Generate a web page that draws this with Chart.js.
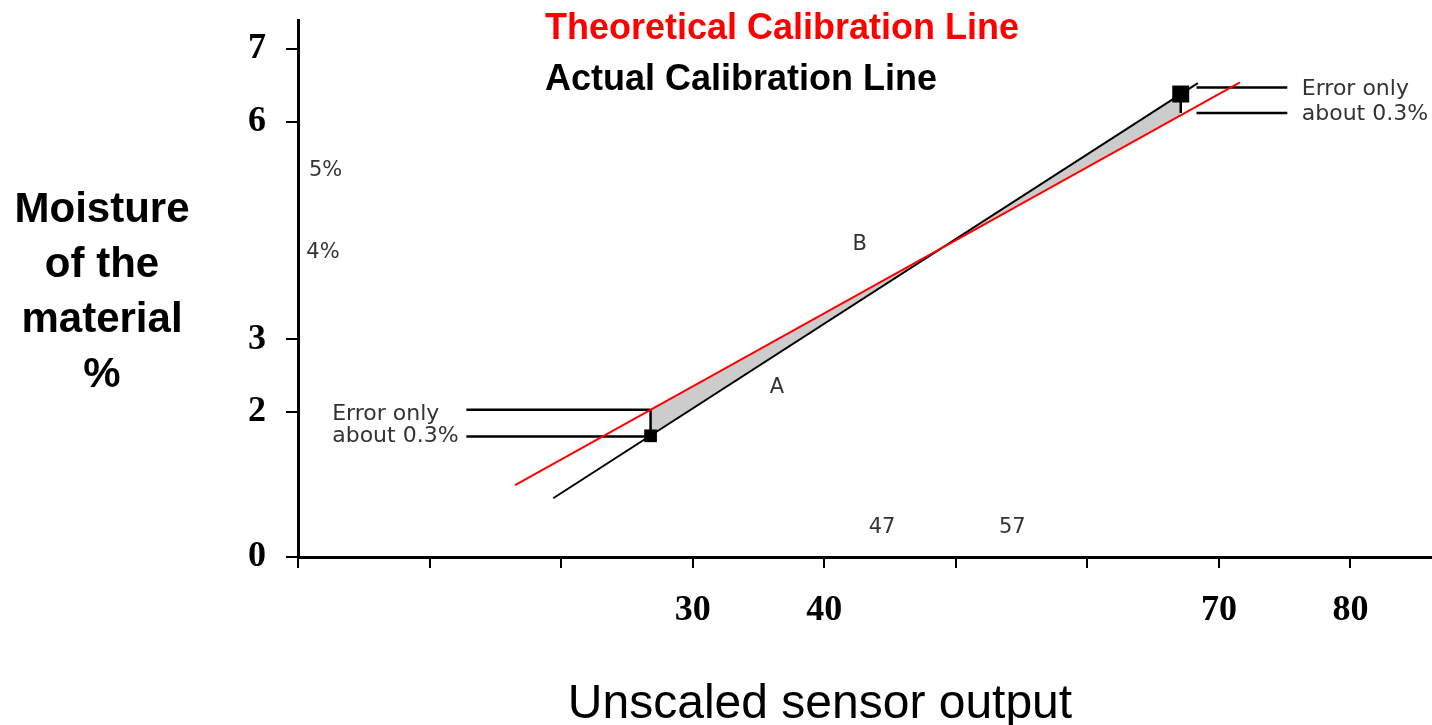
<!DOCTYPE html>
<html>
<head>
<meta charset="utf-8">
<script src="https://cdn.jsdelivr.net/npm/chart.js@4.4.1/dist/chart.umd.min.js"></script>
<style>
  html, body { margin: 0; padding: 0; background: #fff; }
  #wrap { width: 1432px; height: 725px; }
</style>
</head>
<body>
<div id="wrap"><canvas id="chart" width="1432" height="725"></canvas></div>
<script>
// values (x = unscaled sensor output, y = moisture %)
const theoreticalX = [16.5, 71.6];
const theoreticalY = [0.99, 6.54];
const actualX = [19.4, 68.4];
const actualY = [0.81, 6.53];
const calPointX = [26.8, 67.1];
const calPointY = [1.67, 6.38];
const redAtCalY = [2.03, 6.09];

const xTicks = [0, 10, 20, 30, 40, 50, 60, 70, 80];
const xTickLabels = [30, 40, 70, 80];
const yTicks = [0, 2, 3, 6, 7];

// the "error only" brackets
const errLeftX = [12.8, 26.8];
const errLeftY = [2.03, 1.66];
const errRightX = [68.3, 75.2];
const errRightY = [6.47, 6.12];

const noteText = ['A', 'B', '47', '57', '5%', '4%'];
const noteX = [36.4, 42.7, 44.4, 54.3, 2.1, 1.9];
const noteY = [2.33, 4.30, 0.40, 0.41, 5.33, 4.19];

const errorText = ['Error only', 'about 0.3%'];
const errTextX = [2.6, 76.3];
const errTextY = [[1.89, 1.58], [6.36, 6.02]];

const legendText = ['Theoretical Calibration Line', 'Actual Calibration Line'];
const legendColor = ['#ff0000', '#000000'];
const yTitle = ['Moisture', 'of the', 'material', '%'];
const xTitle = 'Unscaled sensor output';

const pts = (xs, ys) => xs.map((x, i) => ({ x, y: ys[i] }));
const seg = (a, b) => [a, b];

function bracket(data) {
  return { data, showLine: true, borderColor: '#000', borderWidth: 2.5, pointRadius: 0, fill: false };
}

const texts = {
  id: 'texts',
  afterDraw(chart) {
    const { ctx } = chart;
    const x = chart.scales.x, y = chart.scales.y;
    ctx.save();

    ctx.textAlign = 'left';
    ctx.textBaseline = 'alphabetic';
    ctx.font = 'bold 36px "Liberation Sans", Arial, sans-serif';
    legendText.forEach((t, i) => {
      ctx.fillStyle = legendColor[i];
      ctx.fillText(t, 545, 39 + i * 51);
    });

    ctx.fillStyle = '#000';
    ctx.textAlign = 'center';
    ctx.font = 'bold 42px "Liberation Sans", Arial, sans-serif';
    yTitle.forEach((t, i) => ctx.fillText(t, 102, 222 + i * 55));

    ctx.font = '48px "Liberation Sans", Arial, sans-serif';
    ctx.fillText(xTitle, 820, 718);

    ctx.fillStyle = '#333';
    ctx.font = '21px "DejaVu Sans", sans-serif';
    ctx.textBaseline = 'middle';
    noteText.forEach((t, i) => ctx.fillText(t, x.getPixelForValue(noteX[i]), y.getPixelForValue(noteY[i])));

    ctx.textAlign = 'left';
    ctx.textBaseline = 'alphabetic';
    ctx.font = '22px "DejaVu Sans", sans-serif';
    errTextX.forEach((ex, k) => {
      errorText.forEach((t, i) => ctx.fillText(t, x.getPixelForValue(ex), y.getPixelForValue(errTextY[k][i])));
    });
    ctx.restore();
  }
};

new Chart(document.getElementById('chart'), {
  type: 'scatter',
  data: {
    datasets: [
      { data: pts(calPointX, calPointY), pointStyle: 'rect', pointRadius: [9, 12], backgroundColor: '#000', borderColor: '#000', borderWidth: 0 },
      { data: pts(theoreticalX, theoreticalY), showLine: true, borderColor: '#ff0000', borderWidth: 2, pointRadius: 0 },
      { data: pts(actualX, actualY), showLine: true, borderColor: '#000', borderWidth: 2, pointRadius: 0 },
      bracket(seg({ x: errLeftX[0], y: errLeftY[0] }, { x: errLeftX[1], y: errLeftY[0] })),
      bracket(seg({ x: errLeftX[0], y: errLeftY[1] }, { x: errLeftX[1], y: errLeftY[1] })),
      bracket(seg({ x: calPointX[0], y: errLeftY[0] }, { x: calPointX[0], y: errLeftY[1] })),
      bracket(seg({ x: errRightX[0], y: errRightY[0] }, { x: errRightX[1], y: errRightY[0] })),
      bracket(seg({ x: errRightX[0], y: errRightY[1] }, { x: errRightX[1], y: errRightY[1] })),
      bracket(seg({ x: calPointX[1], y: calPointY[1] }, { x: calPointX[1], y: errRightY[1] })),
      // grey area between the two lines
      { data: pts(calPointX, calPointY), showLine: true, fill: '+1', backgroundColor: '#cccccc', borderColor: 'transparent', borderWidth: 0, pointRadius: 0 },
      { data: pts(calPointX, redAtCalY), showLine: true, fill: false, borderColor: 'transparent', borderWidth: 0, pointRadius: 0 }
    ]
  },
  options: {
    responsive: false,
    animation: false,
    devicePixelRatio: 1,
    layout: { autoPadding: false, padding: { top: 20, left: 0, right: 0, bottom: 0 } },
    plugins: { legend: { display: false }, tooltip: { enabled: false } },
    scales: {
      x: {
        type: 'linear', min: 0, max: 86.2,
        afterBuildTicks: s => { s.ticks = xTicks.map(v => ({ value: v })); },
        afterFit: s => { s.height = 168; s.paddingLeft = 0; s.paddingRight = 0; },
        ticks: {
          autoSkip: false, maxRotation: 0, padding: 25, color: '#000',
          font: { family: '"Liberation Serif", serif', size: 36, weight: 'bold', lineHeight: 1 },
          callback: v => xTickLabels.includes(v) ? String(v) : ''
        },
        grid: { drawOnChartArea: false, tickLength: 11, color: '#000', lineWidth: 2 },
        border: { color: '#000', width: 3 }
      },
      y: {
        type: 'linear', min: 0, max: 7.4,
        afterBuildTicks: s => { s.ticks = yTicks.map(v => ({ value: v })); },
        afterFit: s => { s.width = 298; s.paddingTop = 0; s.paddingBottom = 0; },
        ticks: {
          padding: 20, color: '#000',
          font: { family: '"Liberation Serif", serif', size: 36, weight: 'bold', lineHeight: 1 }
        },
        grid: { drawOnChartArea: false, tickLength: 12, color: '#000', lineWidth: 2 },
        border: { color: '#000', width: 3 }
      }
    }
  },
  plugins: [texts]
});
</script>
</body>
</html>
